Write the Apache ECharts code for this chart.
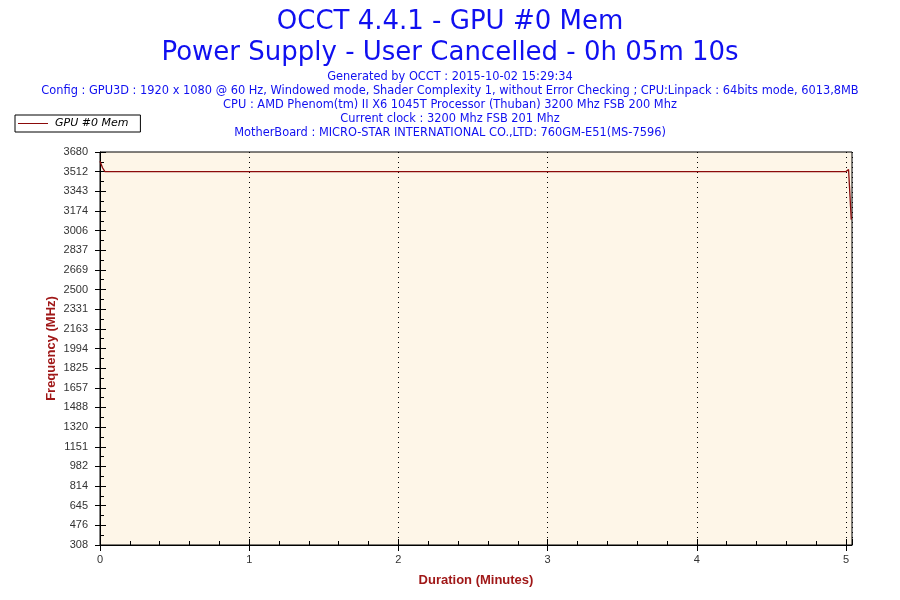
<!DOCTYPE html>
<html>
<head>
<meta charset="utf-8">
<script src="https://cdn.jsdelivr.net/npm/echarts@6/dist/echarts.min.js"></script>
<style>
  html, body { margin: 0; padding: 0; background: #fff; }
  #chart { width: 900px; height: 600px; }
</style>
</head>
<body>
<div id="chart"></div>
<script>
// duration in minutes / GPU memory clock in MHz
const times = [0, 0.017, 0.033, 5.0, 5.017, 5.035];
const freqs = [3600, 3545, 3512, 3512, 3530, 3100];
const yTickLabels = ["308", "476", "645", "814", "982", "1151", "1320", "1488", "1657", "1825",
  "1994", "2163", "2331", "2500", "2669", "2837", "3006", "3174", "3343", "3512", "3680"];
const yMin = 308;
const yMax = 3680;
const xMax = 5.04;
const seriesName = "GPU #0 Mem";
const titleLines = ["OCCT 4.4.1 - GPU #0 Mem", "Power Supply - User Cancelled - 0h 05m 10s"];
const infoLines = [
  "Generated by OCCT : 2015-10-02 15:29:34",
  "Config : GPU3D : 1920 x 1080 @ 60 Hz, Windowed mode, Shader Complexity 1, without Error Checking ; CPU:Linpack : 64bits mode, 6013,8MB",
  "CPU : AMD Phenom(tm) II X6 1045T Processor (Thuban) 3200 Mhz FSB 200 Mhz",
  "Current clock : 3200 Mhz FSB 201 Mhz",
  "MotherBoard : MICRO-STAR INTERNATIONAL CO.,LTD: 760GM-E51(MS-7596)"
];

const chart = echarts.init(document.getElementById("chart"));
const labelFont = { fontFamily: "Liberation Sans", fontSize: 11, color: "#333" };
const nameStyle = { fontFamily: "Liberation Sans", fontSize: 13, fontWeight: "bold", color: "#a01818" };

chart.setOption({
  animation: false,
  backgroundColor: "#fff",
  title: [
    {
      text: titleLines.join("\n"),
      left: "center",
      top: 2,
      textStyle: { fontFamily: "DejaVu Sans", fontSize: 26, fontWeight: "normal", color: "#1010f0", lineHeight: 31 }
    },
    {
      text: infoLines.join("\n"),
      left: "center",
      top: 65,
      textStyle: { fontFamily: "DejaVu Sans", fontSize: 11.4, fontWeight: "normal", color: "#1010f0", lineHeight: 14 }
    }
  ],
  legend: {
    left: 15,
    top: 115,
    orient: "vertical",
    padding: [3, 12, 3, 3],
    itemGap: 0,
    itemWidth: 30,
    itemHeight: 1,
    borderColor: "#000",
    borderWidth: 1,
    borderRadius: 0,
    icon: "rect",
    textStyle: { fontFamily: "DejaVu Sans", fontSize: 11, fontStyle: "italic", color: "#000", padding: [0, 0, 0, 2] },
    data: [seriesName]
  },
  grid: {
    left: 100, right: 48, top: 152, bottom: 55,
    show: true,
    backgroundColor: "#fef6e8",
    borderColor: "#000",
    borderWidth: 1
  },
  xAxis: [
    {
      type: "value",
      min: 0, max: xMax, interval: 1,
      name: "Duration (Minutes)",
      nameLocation: "middle",
      nameGap: 29,
      nameTextStyle: nameStyle,
      axisLine: { lineStyle: { color: "#000", width: 1 } },
      axisTick: { length: 6, lineStyle: { color: "#000" } },
      axisLabel: Object.assign({ margin: 9, showMaxLabel: false }, labelFont),
      splitLine: { show: true, lineStyle: { color: "#000", type: [1, 4], width: 1 } }
    },
    {
      type: "value",
      position: "bottom",
      min: 0, max: xMax, interval: 1,
      axisLine: { show: false },
      axisTick: { inside: true, length: 6, lineStyle: { color: "#000" } },
      minorTick: { show: true, splitNumber: 5, length: 4, lineStyle: { color: "#000" } },
      axisLabel: { show: false },
      splitLine: { show: false }
    }
  ],
  yAxis: [
    {
      type: "value",
      position: "left",
      min: yMin, max: yMax,
      show: false
    },
    {
      type: "value",
      position: "left",
      min: 0, max: yTickLabels.length - 1, interval: 1,
      name: "Frequency (MHz)",
      nameLocation: "middle",
      nameGap: 42,
      nameMoveOverlap: false,
      nameTextStyle: nameStyle,
      axisLine: { show: true, lineStyle: { color: "#000", width: 1 } },
      axisTick: { length: 5, lineStyle: { color: "#000" } },
      axisLabel: Object.assign({ margin: 12, formatter: (v) => yTickLabels[Math.round(v)] }, labelFont),
      splitLine: { show: false }
    },
    {
      type: "value",
      position: "left",
      min: 0, max: yTickLabels.length - 1, interval: 1,
      axisLine: { show: false },
      axisTick: { inside: true, length: 6, lineStyle: { color: "#000" } },
      minorTick: { show: true, splitNumber: 2, length: 4, lineStyle: { color: "#000" } },
      axisLabel: { show: false },
      splitLine: { show: false }
    }
  ],
  series: [
    {
      name: seriesName,
      type: "line",
      xAxisIndex: 0,
      yAxisIndex: 0,
      showSymbol: false,
      symbol: "none",
      color: "#8b0a0a",
      lineStyle: { width: 1.3 },
      data: times.map((t, i) => [t, freqs[i]])
    }
  ]
});
</script>
</body>
</html>
